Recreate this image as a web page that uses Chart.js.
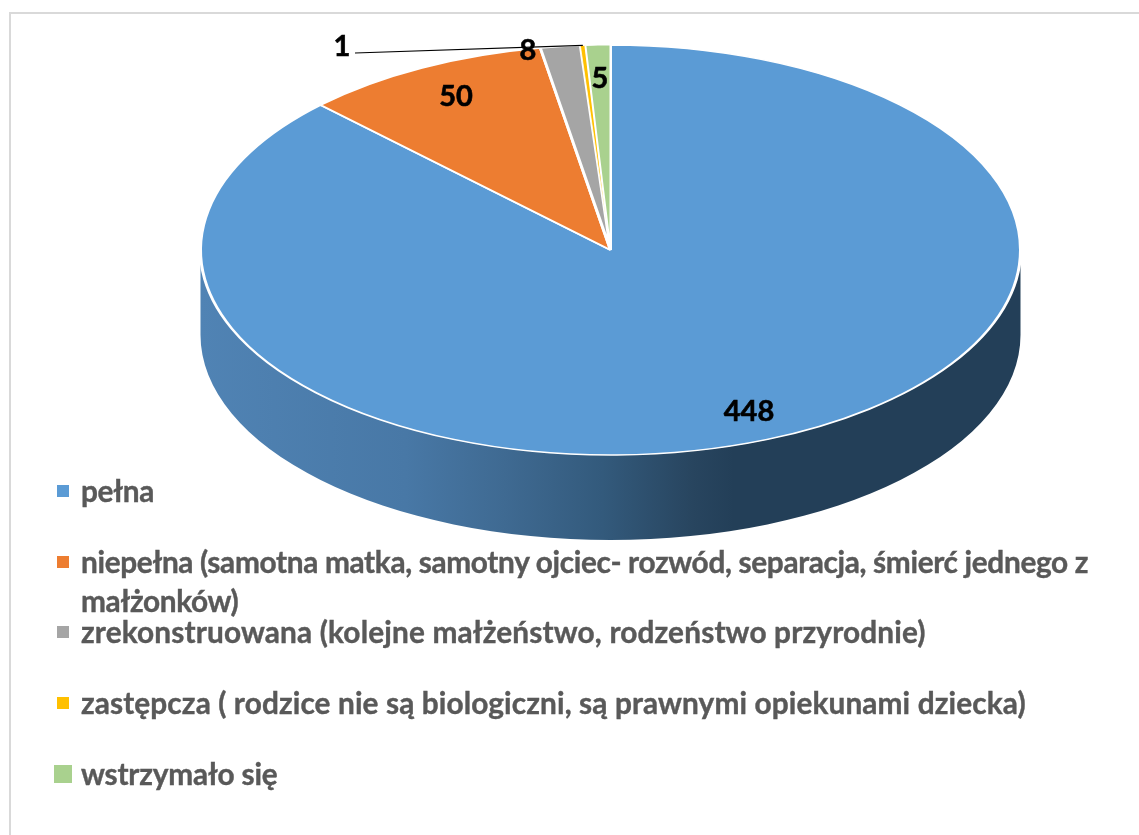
<!DOCTYPE html>
<html lang="pl">
<head>
<meta charset="utf-8">
<title>Rodzina</title>
<script src="https://cdn.jsdelivr.net/npm/chart.js@4"></script>
<style>
    html, body { margin: 0; padding: 0; background: #fff; }
    #wrap { position: relative; width: 1139px; height: 835px; overflow: hidden; }
    #frame { position: absolute; left: 9px; top: 12px; right: -5px; bottom: -5px; border: 2px solid #d9d9d9; }
    #chart { position: absolute; left: 0; top: 0; }
    #legend { position: absolute; left: 54px; top: 455px; width: 1050px; font: bold 29.8px Lato, sans-serif; color: #595959; -webkit-text-stroke: 0.4px #595959; }
    .row { position: relative; height: 70.7px; line-height: 39px; padding-left: 27px; padding-top: 16px; box-sizing: border-box; }
    .box { position: absolute; left: 3px; top: 30px; width: 12px; height: 12px; }
    .row:last-child .box { left: 0; top: 27px; width: 18px; height: 18px; }
</style>
</head>
<body>
<div id="wrap">
    <div id="frame"></div>
    <canvas id="chart" width="1139" height="835"></canvas>
    <div id="legend"></div>
</div>
<script>
    // dane z wykresu
    const categories = [
        'pełna',
        'niepełna (samotna matka, samotny ojciec- rozwód, separacja, śmierć jednego z małżonków)',
        'zrekonstruowana (kolejne małżeństwo, rodzeństwo przyrodnie)',
        'zastępcza ( rodzice nie są biologiczni, są prawnymi opiekunami dziecka)',
        'wstrzymało się'
    ];
    const values = [448, 50, 8, 1, 5];
    const colors = ['#5b9bd5', '#ed7d31', '#a5a5a5', '#ffc000', '#a9d18e'];

    // uklad: pozycje etykiet, spłaszczenie koła, korekta szerokosci legendy
    const labelSpots = [[749, 412], [456, 97], [528, 51], [342, 47], [600, 79]];
    const borderWidths = [3, 3, 3, 1, 2];
    const rowSpacing = [-0.3, -0.34, 0.15, 0.11, -0.2];
    const squash = 0.5;
    const topY = 250;
    const depth = 85;

    const legend = document.getElementById('legend');
    categories.forEach((name, i) => {
        const row = document.createElement('div');
        row.className = 'row';
        row.style.letterSpacing = rowSpacing[i] + 'px';
        const box = document.createElement('span');
        box.className = 'box';
        box.style.background = colors[i];
        row.appendChild(box);
        row.appendChild(document.createTextNode(name));
        legend.appendChild(row);
    });

    function flatten(ctx, cy) {
        ctx.translate(0, topY);
        ctx.scale(1, squash);
        ctx.translate(0, -cy);
    }

    const pie3d = {
        id: 'pie3d',
        beforeDatasetsDraw(chart) {
            const ctx = chart.ctx;
            const arc = chart.getDatasetMeta(0).data[0];
            const r = arc.outerRadius;
            const grad = ctx.createLinearGradient(arc.x - r, 0, arc.x + r, 0);
            grad.addColorStop(0, '#5083b4');
            grad.addColorStop(0.25, '#4878a6');
            grad.addColorStop(0.37, '#3f6a92');
            grad.addColorStop(0.49, '#335a7c');
            grad.addColorStop(0.6, '#28455f');
            grad.addColorStop(0.65, '#233f58');
            grad.addColorStop(1, '#233f58');

            // bok walca
            ctx.save();
            ctx.fillStyle = grad;
            ctx.beginPath();
            ctx.ellipse(arc.x, topY, r, r * squash, 0, Math.PI, 0, true);
            ctx.lineTo(arc.x + r, topY + depth);
            ctx.ellipse(arc.x, topY + depth, r, r * squash, 0, 0, Math.PI, false);
            ctx.closePath();
            ctx.fill();
            ctx.restore();

            ctx.save();
            flatten(ctx, arc.y);
        },
        afterDatasetsDraw(chart) {
            const ctx = chart.ctx;
            ctx.restore();

            // linia od etykiety "1" do zoltego wycinka
            const yellow = chart.getDatasetMeta(0).data[3];
            const mid = (yellow.startAngle + yellow.endAngle) / 2;
            ctx.save();
            ctx.strokeStyle = '#000';
            ctx.lineWidth = 1.2;
            ctx.beginPath();
            ctx.moveTo(355, 53);
            ctx.lineTo(yellow.x + Math.cos(mid) * yellow.outerRadius,
                topY + Math.sin(mid) * yellow.outerRadius * squash);
            ctx.stroke();

            // etykiety wartosci
            ctx.fillStyle = '#000';
            ctx.strokeStyle = '#000';
            ctx.lineWidth = 0.6;
            ctx.font = 'bold 29px Lato, sans-serif';
            ctx.textAlign = 'center';
            ctx.textBaseline = 'middle';
            values.forEach((v, i) => {
                ctx.fillText(String(v), labelSpots[i][0], labelSpots[i][1]);
                ctx.strokeText(String(v), labelSpots[i][0], labelSpots[i][1]);
            });
            ctx.restore();
        }
    };

    new Chart(document.getElementById('chart'), {
        type: 'pie',
        data: {
            labels: categories,
            datasets: [{
                data: values,
                backgroundColor: colors,
                borderColor: '#fff',
                borderWidth: borderWidths
            }]
        },
        options: {
            responsive: false,
            animation: false,
            layout: { padding: { left: 199, right: 117, top: 0, bottom: 12 } },
            plugins: { legend: { display: false }, tooltip: { enabled: false } }
        },
        plugins: [pie3d]
    });
</script>
</body>
</html>
